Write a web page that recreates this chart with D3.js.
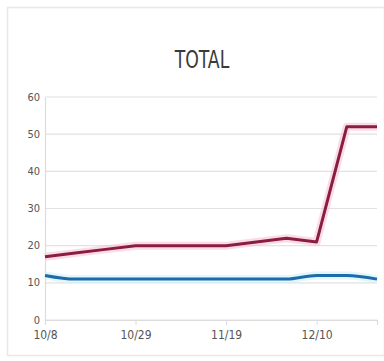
<!DOCTYPE html>
<html>
<head>
<meta charset="utf-8">
<script src="https://cdn.jsdelivr.net/npm/d3@7"></script>
<style>
  html, body { margin: 0; padding: 0; background: #fff; }
  svg { display: block; }
  text { font-family: "DejaVu Sans Condensed", "DejaVu Sans", sans-serif; }
</style>
</head>
<body>
<svg id="chart" width="384" height="361"></svg>
<script>
// Weekly dates (every 7 days from 10/8)
const weeks = ["10/8","10/15","10/22","10/29","11/5","11/12","11/19","11/26","12/3","12/10","12/17","12/24"];
const redSeries  = [17, 18, 19, 20, 20, 20, 20, 21, 22, 21, 52, 52];
const blueSeries = [12, 11, 11, 11, 11, 11, 11, 11, 11, 12, 12, 11];
const xTickLabels = ["10/8","10/29","11/19","12/10"];
const yTicks = [0, 10, 20, 30, 40, 50, 60];
const title = "TOTAL";

const svg = d3.select("#chart");
const W = 384, H = 361;
const m = { left: 45, right: 7, top: 97, bottom: 41 };

// card frame
svg.append("rect")
  .attr("x", 7.5).attr("y", 7.5)
  .attr("width", W - 7).attr("height", H - 13)
  .attr("fill", "#fff").attr("stroke", "#e8e8e8").attr("stroke-width", 1.5);

svg.append("text")
  .attr("x", 202).attr("y", 68)
  .attr("text-anchor", "middle")
  .attr("font-size", 24)
  .attr("fill", "#3a3a3a")
  .attr("transform", "translate(202,68) scale(0.8,1) translate(-202,-68)")
  .text(title);

const x = d3.scalePoint().domain(weeks).range([m.left, W - m.right]);
const y = d3.scaleLinear().domain([0, 60]).range([H - m.bottom, m.top]);

// horizontal gridlines
svg.append("g")
  .selectAll("line")
  .data(yTicks)
  .join("line")
  .attr("x1", m.left).attr("x2", W - m.right)
  .attr("y1", d => y(d)).attr("y2", d => y(d))
  .attr("stroke", "#e2e2e2").attr("stroke-width", 1.2);

// y axis
const yAxis = svg.append("g")
  .attr("transform", `translate(${m.left},0)`)
  .call(d3.axisLeft(y).tickValues(yTicks).tickSize(0).tickPadding(5));
yAxis.select(".domain").attr("stroke", "#dcdcdc").attr("stroke-width", 1.2);
yAxis.selectAll("text").attr("font-size", 11).attr("fill", "#555").attr("dy", "0.28em");

// x axis
const xAxis = svg.append("g")
  .attr("transform", `translate(0,${H - m.bottom})`)
  .call(d3.axisBottom(x)
    .tickValues(xTickLabels.concat([weeks[weeks.length - 1]]))
    .tickSize(5).tickPadding(5)
    .tickFormat(d => xTickLabels.includes(d) ? d : ""));
xAxis.select(".domain").attr("stroke", "#dcdcdc").attr("stroke-width", 1.2);
xAxis.selectAll(".tick line").attr("stroke", "#dcdcdc");
xAxis.selectAll("text").attr("font-size", 12).attr("fill", "#555");

const straight = d3.line()
  .x((d, i) => x(weeks[i]))
  .y(d => y(d));
const smooth = d3.line()
  .x((d, i) => x(weeks[i]))
  .y(d => y(d))
  .curve(d3.curveMonotoneX);

function drawSeries(values, gen, glow, color) {
  svg.append("path")
    .attr("d", gen(values))
    .attr("fill", "none")
    .attr("stroke", glow).attr("stroke-width", 8)
    .attr("stroke-opacity", 0.55)
    .attr("stroke-linejoin", "round");
  svg.append("path")
    .attr("d", gen(values))
    .attr("fill", "none")
    .attr("stroke", color).attr("stroke-width", 3)
    .attr("stroke-linejoin", "round");
}

drawSeries(redSeries, straight, "#f7c0d0", "#8a1d42");
drawSeries(blueSeries, smooth, "#c4f0fb", "#1f6aa8");
</script>
</body>
</html>
